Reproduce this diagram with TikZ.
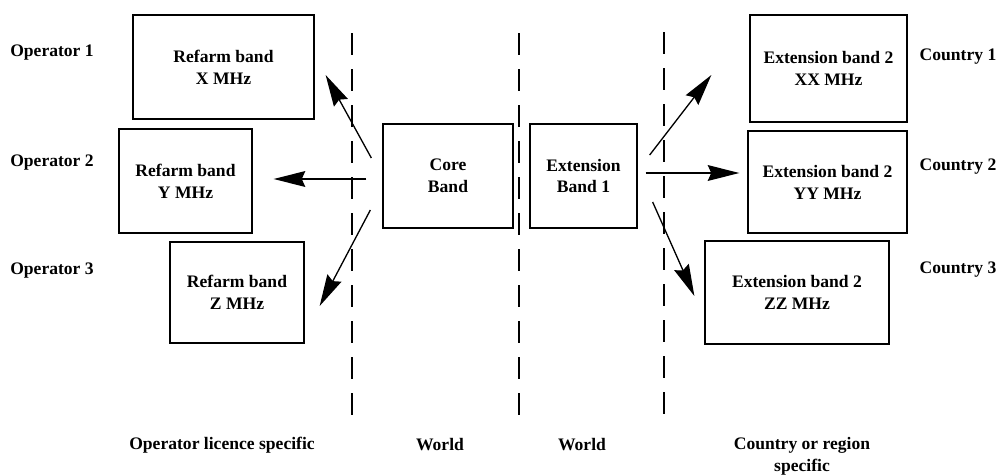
\documentclass[tikz,border=0pt]{standalone}
\usepackage{fontspec}
\setmainfont{Liberation Serif}
\usetikzlibrary{arrows.meta}

\begin{document}
\begin{tikzpicture}[x=0.02cm,y=-0.02cm,
    every node/.style={font=\fontsize{10}{12.5}\selectfont\bfseries},
    band/.style={draw,line width=0.75pt,align=center,inner sep=0pt},
    arr/.style={line width=0.75pt,-{Stealth[length=18pt,width=9pt,inset=2pt]}},
    divider/.style={line width=0.75pt,dash pattern=on 12.5pt off 8pt}]
    \useasboundingbox (0,0) rectangle (1000,474);

    % world bands in the middle
    \node[band,minimum width=2.6cm,minimum height=2.08cm] (core) at (448,176) {Core\\Band};
    \node[band,minimum width=2.14cm,minimum height=2.08cm] (ext1) at (583.5,176) {Extension\\Band 1};

    % operator specific
    \node[band,minimum width=3.62cm,minimum height=2.08cm] (refx) at (223.5,67) {Refarm band\\X MHz};
    \node[band,minimum width=2.66cm,minimum height=2.08cm] (refy) at (185.5,181) {Refarm band\\Y MHz};
    \node[band,minimum width=2.68cm,minimum height=2.02cm] (refz) at (237,292.5) {Refarm band\\Z MHz};
    \node (op1) at (52,53) {Operator 1};
    \node (op2) at (52,163) {Operator 2};
    \node (op3) at (52,271) {Operator 3};

    % country specific
    \node[band,minimum width=3.14cm,minimum height=2.14cm] (extxx) at (828.5,68.5) {Extension band 2\\XX MHz};
    \node[band,minimum width=3.18cm,minimum height=2.04cm] (extyy) at (827.5,182) {Extension band 2\\YY MHz};
    \node[band,minimum width=3.68cm,minimum height=2.06cm] (extzz) at (797,292.5) {Extension band 2\\ZZ MHz};
    \node (cty1) at (958,57) {Country 1};
    \node (cty2) at (958,167) {Country 2};
    \node (cty3) at (958,270) {Country 3};

    % arrows
    \draw[arr] ([shift={(-11,-18)}]core.west) -- ([shift={(11,8)}]refx.east);
    \draw[arr] ([shift={(-16,3)}]core.west) -- ([shift={(21,-2)}]refy.east);
    \draw[arr] ([shift={(-12,34)}]core.west) -- ([shift={(15,13.5)}]refz.east);
    \draw[arr] ([shift={(12,-21)}]ext1.east) -- ([shift={(-38,6.5)}]extxx.west);
    \draw[arr] ([shift={(8,-3)}]ext1.east) -- ([shift={(-8,-9)}]extyy.west);
    \draw[arr] ([shift={(15,26)}]ext1.east) -- ([shift={(-10,3.5)}]extzz.west);

    % dividers
    \coordinate (d1top) at (352,33);
    \coordinate (d1bot) at (352,420);
    \coordinate (d2top) at (519,33);
    \coordinate (d2bot) at (519,420);
    \coordinate (d3top) at (664,32);
    \coordinate (d3bot) at (664,420);
    \draw[divider] (d1top) -- (d1bot);
    \draw[divider,line width=1pt] (d2top) -- (d2bot);
    \draw[divider] (d3top) -- (d3bot);

    % regions
    \node (oplic) at (222,445) {Operator licence specific};
    \node (world1) at (440,445) {World};
    \node (world2) at (582,445) {World};
    \node[align=center,anchor=north] (ctyreg) at (802,431) {Country or region\\specific};
\end{tikzpicture}
\end{document}
